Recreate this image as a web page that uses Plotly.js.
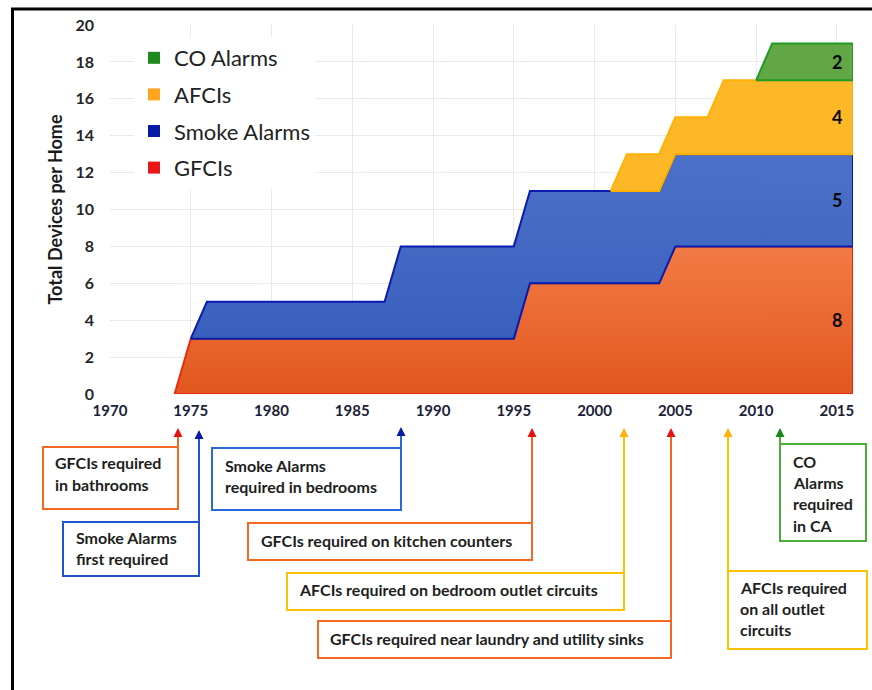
<!DOCTYPE html>
<html>
<head>
<meta charset="utf-8">
<script src="https://cdn.plot.ly/plotly-3.0.1.min.js"></script>
<style>
  html, body { margin: 0; padding: 0; background: #ffffff; }
  #chart { width: 872px; height: 690px; }
</style>
</head>
<body>
<div id="chart"></div>
<script>
// ---------------- DATA ----------------
var years = [1974,1975,1976,1977,1978,1979,1980,1981,1982,1983,1984,1985,1986,1987,1988,1989,1990,1991,1992,1993,1994,1995,
             1996,1997,1998,1999,2000,2001,2002,2003,2004,2005,2006,2007,2008,2009,2010,2011,2012,2013,2014,2015,2016];

var gfci  = [0, 3,3,3,3,3,3,3,3,3,3,3,3,3,3,3,3,3,3,3,3,3,
             6,6,6,6,6,6,6,6,6, 8,8,8,8,8,8,8,8,8,8,8,8];
var smoke = [null, 0, 2,2,2,2,2,2,2,2,2,2,2,2,
             5,5,5,5,5,5,5,5,5,5,5,5,5,5,5,5,5,5,5,5,5,5,5,5,5,5,5,5,5];
var afci  = [null,null,null,null,null,null,null,null,null,null,null,null,null,null,null,null,null,null,null,null,null,null,
             null,null,null,null,null, 0, 2,2,2,2,2,2, 4,4,4,4,4,4,4,4,4];
var co    = [null,null,null,null,null,null,null,null,null,null,null,null,null,null,null,null,null,null,null,null,null,null,
             null,null,null,null,null,null,null,null,null,null,null,null,null,null, 0, 2,2,2,2,2,2];

var seriesNames = ["GFCIs", "Smoke Alarms", "AFCIs", "CO Alarms"];
var xTicks = [1970, 1975, 1980, 1985, 1990, 1995, 2000, 2005, 2010, 2015];
var yTicks = [0, 2, 4, 6, 8, 10, 12, 14, 16, 18, 20];

// ---------------- STYLE ----------------
var fillColors = ["#EC672C", "#4167C2", "#FDB827", "#62A745"];
var lineColors = ["#EA2A0E", "#0A1CAE", "#FFB000", "#1F9A25"];
var legendColors = ["#E81818", "#0A1AA8", "#FFA51C", "#1E8A1E"];
var gradients = [
  [[0, "#E2561F"], [1, "#F27B45"]],
  [[0, "#3A60BE"], [1, "#4B71C8"]],
  null, null
];

var FONT = "Lato, 'Open Sans', sans-serif";

// plot-area pixel geometry (for layout helpers only)
var L = 110, R = 853, T = 25, B = 394, W = 872, H = 690;
function px(x) { return (x - L) / (R - L); }
function py(y) { return (B - y) / (B - T); }

// ---------------- TRACES ----------------
var seriesVals = [gfci, smoke, afci, co];
var traces = [];
var base = years.map(function () { return 0; });
var valueLabels = [];
seriesVals.forEach(function (vals, k) {
  var top = base.map(function (b, i) { return b + (vals[i] === null ? 0 : vals[i]); });
  var idx = [];
  vals.forEach(function (v, i) { if (v !== null) idx.push(i); });
  var xs = [], ys = [];
  idx.forEach(function (i) { xs.push(years[i]); ys.push(top[i]); });
  idx.slice().reverse().forEach(function (i) { xs.push(years[i]); ys.push(base[i]); });
  var tr = {
    type: "scatter", mode: "lines", x: xs, y: ys,
    fill: "toself", fillcolor: fillColors[k],
    line: { color: lineColors[k], width: 2 },
    showlegend: false, hoverinfo: "skip", name: seriesNames[k]
  };
  if (gradients[k]) tr.fillgradient = { type: "vertical", colorscale: gradients[k] };
  traces.push(tr);
  var last = years.length - 1;
  valueLabels.push({ y: base[last] + vals[last] / 2, text: String(vals[last]) });
  base = top;
});

// legend entries (top to bottom: CO, AFCI, Smoke, GFCI)
[3, 2, 1, 0].forEach(function (k) {
  traces.push({
    type: "scatter", mode: "markers", x: [null], y: [null],
    name: seriesNames[k], legendgroup: "g" + k,
    marker: { symbol: "square", size: 12, color: legendColors[k] },
    showlegend: true, hoverinfo: "skip"
  });
});

// ---------------- ANNOTATIONS / SHAPES ----------------
var annotations = [];
var shapes = [];

valueLabels.forEach(function (v) {
  annotations.push({
    x: 2015, y: v.y, xref: "x", yref: "y", text: "<b>" + v.text + "</b>",
    showarrow: false, xanchor: "center", yanchor: "middle",
    font: { family: FONT, size: 18, color: "#0a0a0a" }
  });
});

var boxes = [
  { x0: 43,  x1: 178, y0: 447, y1: 509, c: "#F26A21", ax: 178, tip: 428, from: 447, hc: "#E81010", lines: ["GFCIs required", "in bathrooms"], tx: 53, ty: [463, 485] },
  { x0: 63,  x1: 199, y0: 522, y1: 576, c: "#1F55CC", ax: 199, tip: 430, from: 522, hc: "#0A1AA0", lines: ["Smoke Alarms", "first required"], tx: 74, ty: [538, 559] },
  { x0: 212, x1: 401, y0: 448, y1: 510, c: "#2A6AD8", ax: 401, tip: 427, from: 448, hc: "#0A1AA0", lines: ["Smoke Alarms", "required in bedrooms"], tx: 223, ty: [466, 487] },
  { x0: 248, x1: 532, y0: 523, y1: 560, c: "#F26A21", ax: 532, tip: 428, from: 523, hc: "#E81010", lines: ["GFCIs required on kitchen counters"], tx: 259, ty: [541] },
  { x0: 287, x1: 624, y0: 573, y1: 610, c: "#FFC000", ax: 624, tip: 428, from: 573, hc: "#FFB000", lines: ["AFCIs required on bedroom outlet circuits"], tx: 297, ty: [590] },
  { x0: 318, x1: 671, y0: 621, y1: 658, c: "#F26A21", ax: 671, tip: 428, from: 621, hc: "#E81010", lines: ["GFCIs required near laundry and utility sinks"], tx: 328, ty: [639] },
  { x0: 728, x1: 867, y0: 571, y1: 649, c: "#FFC000", ax: 728, tip: 428, from: 571, hc: "#FFB000", lines: ["AFCIs required", "on all outlet", "circuits"], tx: 738, ty: [588, 609, 630] },
  { x0: 780, x1: 866, y0: 444, y1: 541, c: "#4CAF35", ax: 780, tip: 428, from: 444, hc: "#138A13", lines: ["CO", "Alarms", "required", "in CA"], tx: 791, ty: [462, 483, 504, 526] }
];

boxes.forEach(function (b) {
  shapes.push({
    type: "rect", xref: "paper", yref: "paper",
    x0: px(b.x0), x1: px(b.x1), y0: py(b.y0), y1: py(b.y1),
    line: { color: b.c, width: 2 }, fillcolor: "rgba(0,0,0,0)"
  });
  shapes.push({
    type: "line", xref: "paper", yref: "paper",
    x0: px(b.ax), x1: px(b.ax), y0: py(b.tip + 5), y1: py(b.from),
    line: { color: b.c, width: 2 }
  });
  annotations.push({
    x: px(b.ax), y: py(b.tip), xref: "paper", yref: "paper",
    text: "", showarrow: true, ax: 0, ay: 8,
    arrowhead: 2, arrowsize: 1, arrowwidth: 1.8, arrowcolor: b.hc
  });
  b.lines.forEach(function (t, i) {
    annotations.push({
      x: px(b.tx), y: py(b.ty[i] - 1), xref: "paper", yref: "paper",
      text: "<b>" + t + "</b>", showarrow: false,
      xanchor: "left", yanchor: "middle",
      font: { family: FONT, size: 16, color: "#1e1e1e" }
    });
  });
});

// outer frame (left and top)
shapes.push({ type: "line", xref: "paper", yref: "paper", x0: px(12.5), x1: px(12.5), y0: py(8), y1: py(692), line: { color: "#000000", width: 3 } });
shapes.push({ type: "line", xref: "paper", yref: "paper", x0: px(11), x1: px(874), y0: py(9), y1: py(9), line: { color: "#000000", width: 3 } });

// ---------------- LAYOUT ----------------
var layout = {
  width: W, height: H,
  margin: { l: L, r: W - R, t: T, b: H - B, pad: 0 },
  paper_bgcolor: "#ffffff", plot_bgcolor: "#ffffff",
  font: { family: FONT, color: "#222222" },
  xaxis: {
    range: [1970, 2016], tickvals: xTicks, ticktext: xTicks.map(String),
    showgrid: true, gridcolor: "#E6EAEF", gridwidth: 1,
    zeroline: false, showline: false, ticks: "",
    ticklabelstandoff: 6,
    tickfont: { family: FONT, size: 15, weight: "bold", color: "#1b2038" }
  },
  yaxis: {
    range: [0, 20], tickvals: yTicks, ticktext: yTicks.map(String),
    showgrid: true, gridcolor: "#E6EAEF", gridwidth: 1,
    zeroline: false, showline: false, ticks: "",
    ticklabelstandoff: 15,
    tickfont: { family: FONT, size: 16, weight: "bold", color: "#262626" },
    title: { text: "Total Devices per Home", standoff: 8,
             font: { family: FONT, size: 18, weight: "bold", color: "#1a1a1a" } }
  },
  showlegend: true,
  legend: {
    x: px(134), y: py(37), xanchor: "left", yanchor: "top",
    bgcolor: "#ffffff", borderwidth: 0,
    traceorder: "grouped", tracegroupgap: 5,
    font: { family: FONT, size: 22, color: "#222222" },
    itemclick: false, itemdoubleclick: false
  },
  annotations: annotations,
  shapes: shapes
};

Plotly.newPlot("chart", traces, layout, { staticPlot: true, displayModeBar: false });
</script>
</body>
</html>
